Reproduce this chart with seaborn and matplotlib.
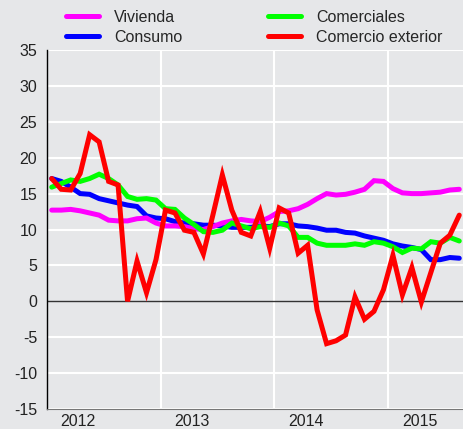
import matplotlib
matplotlib.use("Agg")
import matplotlib.pyplot as plt
import matplotlib.transforms as mtransforms
import numpy as np
import pandas as pd
import seaborn as sns

# monthly series, Jan 2012 .. Aug 2015
vivienda = [12.7, 12.7, 12.8, 12.6, 12.3, 12.0, 11.3, 11.2, 11.2, 11.5, 11.6, 10.9,
            10.5, 10.5, 10.4, 10.1, 10.0, 10.4, 10.9, 11.2, 11.4, 11.2, 11.1, 11.7,
            12.5, 12.6, 12.9, 13.5, 14.3, 15.0, 14.8, 14.9, 15.2, 15.6, 16.8, 16.7,
            15.7, 15.1, 15.0, 15.0, 15.1, 15.2, 15.5, 15.6]
consumo = [17.1, 16.7, 15.9, 15.0, 14.9, 14.3, 14.0, 13.7, 13.4, 13.2, 11.9, 11.6,
           11.5, 11.1, 10.9, 10.8, 10.6, 10.6, 10.5, 10.3, 10.3, 10.3, 10.5, 10.4,
           10.8, 10.8, 10.5, 10.4, 10.2, 9.9, 9.9, 9.6, 9.5, 9.1, 8.8, 8.5,
           8.0, 7.7, 7.5, 7.2, 5.8, 5.8, 6.1, 6.0]
comerciales = [15.9, 16.4, 16.9, 16.7, 17.1, 17.7, 17.1, 16.2, 14.6, 14.2, 14.3, 14.1,
               12.9, 12.8, 11.6, 10.7, 9.7, 9.6, 9.9, 10.9, 10.5, 10.1, 10.4, 10.3,
               10.9, 10.5, 8.9, 8.9, 8.1, 7.8, 7.8, 7.8, 8.0, 7.8, 8.3, 8.1,
               7.6, 6.8, 7.4, 7.3, 8.3, 8.1, 8.9, 8.4]
comercio_ext = [17.1, 15.6, 15.5, 17.8, 23.2, 22.2, 16.7, 16.2, 0.0, 5.6, 1.2, 5.8,
                12.7, 12.3, 9.9, 9.6, 6.6, 12.0, 17.6, 12.7, 9.6, 9.1, 12.5, 7.4,
                13.0, 12.3, 6.7, 7.8, -1.2, -5.9, -5.5, -4.7, 0.6, -2.5, -1.4, 1.6,
                6.4, 0.9, 4.7, -0.1, 4.0, 8.1, 9.2, 12.0]

year_labels = ["2012", "2013", "2014", "2015"]
y_ticks = list(range(-15, 40, 5))

months = np.arange(len(vivienda)) + 0.5
series = {
    "Consumo": consumo,
    "Vivienda": vivienda,
    "Comerciales": comerciales,
    "Comercio exterior": comercio_ext,
}
colors = {
    "Vivienda": "#ff00ff",
    "Consumo": "#0000ff",
    "Comerciales": "#00ff00",
    "Comercio exterior": "#ff0000",
}

bg = "#e6e7e9"
sns.set_style("white")
plt.rcParams["font.family"] = ["Liberation Sans", "DejaVu Sans"]
plt.rcParams["axes.unicode_minus"] = False
FS = 11.5

fig = plt.figure(figsize=(4.64, 4.29), dpi=100, facecolor=bg)
ax = fig.add_axes([47 / 464, 1 - 409 / 429, 1 - 47 / 464, (409 - 50) / 429])
ax.set_facecolor(bg)

for yv in y_ticks:
    if yv != 0:
        ax.axhline(yv, color="white", lw=1.5, zorder=0)
for xv in [12, 24, 36]:
    ax.axvline(xv, color="white", lw=1.5, zorder=0)
ax.axhline(0, color="#333333", lw=1.0, zorder=1)

for name, vals in series.items():
    df = pd.DataFrame({"x": months, "y": vals})
    sns.lineplot(data=df, x="x", y="y", ax=ax, color=colors[name], lw=3.6,
                 label=name, zorder=3, solid_joinstyle="miter")
h, l = ax.get_legend_handles_labels()
handles = dict(zip(l, h))
ax.get_legend().remove()

ax.set_xlim(0, 44)
ax.set_ylim(-15, 35)
ax.set_xlabel("")
ax.set_ylabel("")
ax.set_yticks(y_ticks)
ax.set_xticks([12, 24, 36])
ax.set_xticks(np.arange(3, 44, 3), minor=True)
ax.set_xticklabels([])
ax.tick_params(axis="x", which="major", direction="in", length=6, width=1.2, color="#333333")
ax.tick_params(axis="x", which="minor", direction="in", length=3, width=1, color="#333333")
ax.tick_params(axis="y", direction="in", length=3, width=1, color="black",
               labelsize=FS, pad=7, labelcolor="#222222")

for side in ["top", "right"]:
    ax.spines[side].set_visible(False)
ax.spines["left"].set_color("black")
ax.spines["left"].set_linewidth(1.0)
ax.spines["bottom"].set_color("#777777")
ax.spines["bottom"].set_linewidth(0.8)

trans = mtransforms.blended_transform_factory(ax.transData, ax.transAxes)
for k, lab in enumerate(year_labels):
    ax.text(3.3 + 12 * k, -0.015, lab, transform=trans, ha="center", va="top",
            fontsize=FS, color="#222222")

order = ["Vivienda", "Consumo", "Comerciales", "Comercio exterior"]
fig.legend([handles[n] for n in order], order, ncol=2, frameon=False,
           loc="upper left", bbox_to_anchor=(52 / 464, 1.01),
           fontsize=FS, handlelength=2.06, handletextpad=0.94,
           columnspacing=5.35, labelspacing=0.3)

fig.savefig("out.png", dpi=100, facecolor=bg)
